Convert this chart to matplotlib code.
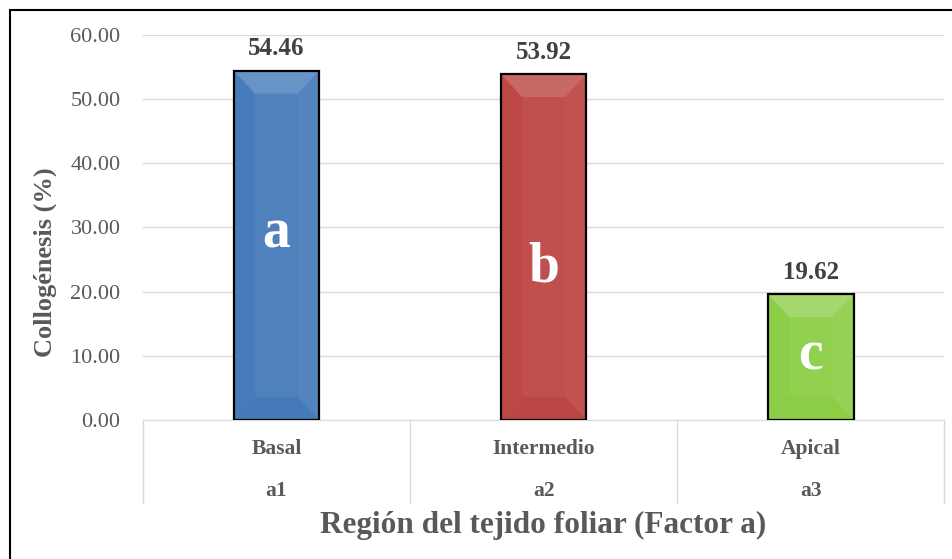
import matplotlib.pyplot as plt
from matplotlib.patches import Polygon, Rectangle
from matplotlib.transforms import blended_transform_factory
import colorsys
from matplotlib.colors import to_rgb

# Datos
regiones = ['Basal', 'Intermedio', 'Apical']
niveles = ['a1', 'a2', 'a3']
collogenesis = [54.46, 53.92, 19.62]
letras = ['a', 'b', 'c']
letra_y = [29.0, 23.8, 10.0]
colores = ['#4f81bd', '#c0504d', '#92d050']

plt.rcParams['font.family'] = ['Liberation Serif', 'DejaVu Serif']
gris = '#595959'


def shade(c, f):
    h, l, s = colorsys.rgb_to_hls(*to_rgb(c))
    return colorsys.hls_to_rgb(h, max(0, min(1, l * f)), s)


fig = plt.figure(figsize=(9.52, 5.59), dpi=100)
ax = fig.add_axes([0.150, 0.2487, 0.842, 0.6887])

x = list(range(len(regiones)))
ancho = 0.32
bx = 0.08    # bisel horizontal (unid. categoria)
by = 3.6     # bisel vertical (unid. datos)

for i, (v, c) in enumerate(zip(collogenesis, colores)):
    x0, x1 = i - ancho / 2, i + ancho / 2
    ax.bar(i, v, width=ancho, color=c, zorder=2)
    # bisel
    top = [(x0, v), (x1, v), (x1 - bx, v - by), (x0 + bx, v - by)]
    bot = [(x0, 0), (x1, 0), (x1 - bx, by), (x0 + bx, by)]
    izq = [(x0, 0), (x0, v), (x0 + bx, v - by), (x0 + bx, by)]
    der = [(x1, 0), (x1, v), (x1 - bx, v - by), (x1 - bx, by)]
    ax.add_patch(Polygon(izq, closed=True, color=shade(c, 0.96), lw=0, zorder=3))
    ax.add_patch(Polygon(der, closed=True, color=shade(c, 1.02), lw=0, zorder=3))
    ax.add_patch(Polygon(bot, closed=True, color=shade(c, 0.95), lw=0, zorder=3))
    ax.add_patch(Polygon(top, closed=True, color=shade(c, 1.13), lw=0, zorder=3))
    ax.bar(i, v, width=ancho, fill=False, edgecolor='black', linewidth=1.6, zorder=4)
    ax.text(i, v + 1.6, f'{v:.2f}', ha='center', va='bottom', fontsize=18,
            fontweight='bold', color='#404040')
    ax.text(i, letra_y[i], letras[i], ha='center', va='center', fontsize=40,
            fontweight='bold', color='white', zorder=5)

ax.set_xlim(-0.5, 2.5)
ax.set_ylim(0, 60)
ax.set_yticks(range(0, 61, 10))
ax.set_yticklabels([f'{t:.2f}' for t in range(0, 61, 10)], fontsize=16, color=gris)
ax.tick_params(axis='y', length=0, pad=16)
ax.set_xticks([])
ax.grid(axis='y', color='#d9d9d9', linewidth=1, zorder=0)
for s in ['top', 'right', 'left']:
    ax.spines[s].set_visible(False)
ax.spines['bottom'].set_color('#d9d9d9')

# eje de categorias de dos niveles
tr = blended_transform_factory(ax.transData, ax.transAxes)
for d in [-0.5, 0.5, 1.5, 2.5]:
    ax.plot([d, d], [0, -0.215], transform=tr, color='#d9d9d9', lw=1, clip_on=False)
for i in x:
    ax.text(i, -0.075, regiones[i], transform=tr, ha='center', va='center',
            fontsize=15.5, fontweight='bold', color=gris)
    ax.text(i, -0.185, niveles[i], transform=tr, ha='center', va='center',
            fontsize=15.5, fontweight='bold', color=gris)

ax.set_ylabel('Collogénesis (%)', fontsize=19, fontweight='bold', color=gris)
ax.yaxis.set_label_coords(-0.107, 0.41)
fig.text(0.57, 0.06, 'Región del tejido foliar (Factor a)', ha='center', va='center',
         fontsize=22.5, fontweight='bold', color=gris)

# marco
fig.patches.append(Rectangle((10 / 952, -0.1), 1.2, 1 - 10 / 559 + 0.1,
                             transform=fig.transFigure, fill=False,
                             edgecolor='black', linewidth=1.5))

fig.savefig('out.png', dpi=100)
